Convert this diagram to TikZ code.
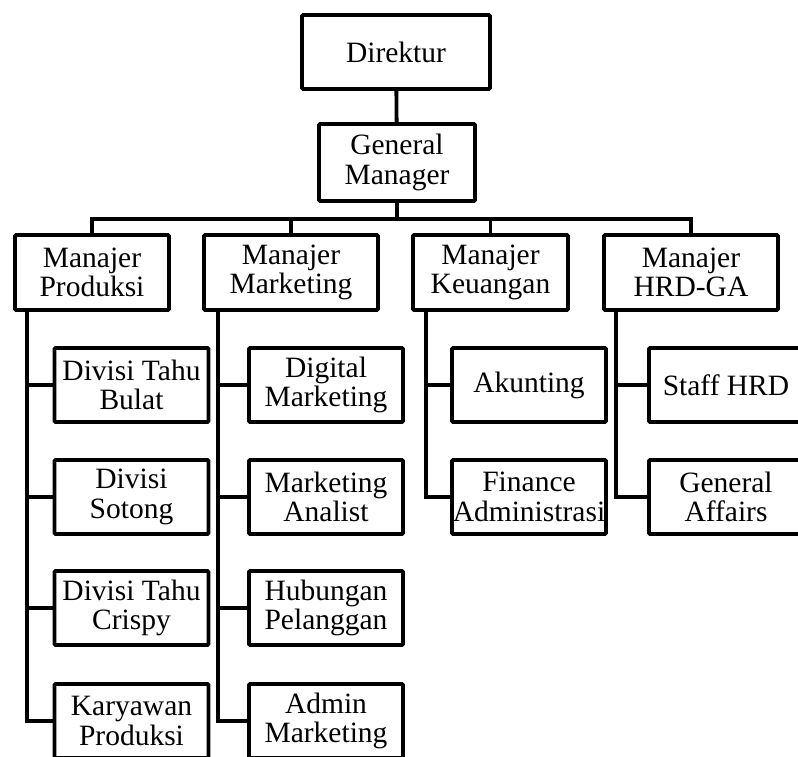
\documentclass[tikz,border=0pt]{standalone}
\usepackage{fontspec}
\setmainfont{Liberation Serif}
\usepackage{tikz}

\begin{document}
\begin{tikzpicture}[x=1pt, y=-1pt,
    box/.style={draw, rectangle, line width=3.8pt, rounded corners=1pt, inner sep=0pt,
        align=center, font=\fontsize{29.5}{29.5}\selectfont},
    mgr/.style={box, minimum height=75pt},
    sub/.style={box, minimum width=154pt, minimum height=74pt},
    link/.style={line width=3.8pt}]
        \clip (0,0) rectangle (798,756);

        % Top
        \node[box, minimum width=188pt, minimum height=74pt] (dir) at (396, 52) {Direktur};
        \node[box, minimum width=156pt, minimum height=77pt] (gm) at (397, 162.5) {General\\Manager};

        % Managers
        \node[mgr, minimum width=154pt] (mprod) at (92, 272.5) {Manajer\\Produksi};
        \node[mgr, minimum width=174pt] (mmkt) at (291, 272.5) {Manajer\\Marketing};
        \node[mgr, minimum width=155pt] (mkeu) at (490.5, 272.5) {Manajer\\Keuangan};
        \node[mgr, minimum width=174pt] (mhrd) at (691, 272.5) {Manajer\\HRD-GA};

        % Produksi
        \node[sub] (prod1) at (131.5, 385) {Divisi Tahu\\Bulat};
        \node[sub] (prod2) at (131.5, 497) {Divisi\\Sotong};
        \node[sub] (prod3) at (131.5, 608) {Divisi Tahu\\Crispy};
        \node[sub] (prod4) at (131.5, 721) {Karyawan\\Produksi};

        % Marketing
        \node[sub] (mkt1) at (326, 385) {Digital\\Marketing};
        \node[sub] (mkt2) at (326, 497) {Marketing\\Analist};
        \node[sub] (mkt3) at (326, 608) {Hubungan\\Pelanggan};
        \node[sub] (mkt4) at (326, 721) {Admin\\Marketing};

        % Keuangan
        \node[sub] (keu1) at (529, 385) {Akunting};
        \node[sub] (keu2) at (529, 497) {Finance\\Administrasi};

        % HRD-GA
        \node[sub] (hrd1) at (726, 385) {Staff HRD};
        \node[sub] (hrd2) at (726, 497) {General\\Affairs};

        % Upper links
        \coordinate (bus) at (0, 219);
        \draw[link] (dir) -- (gm);
        \draw[link] (gm.south) -- (gm.south |- bus);
        \draw[link] (mprod.north) |- (bus -| mhrd.north) -- (mhrd.north);
        \draw[link] (mmkt.north) -- (mmkt.north |- bus);
        \draw[link] (mkeu.north) -- (mkeu.north |- bus);

        % Spines
        \foreach \i in {1,...,4} {
            \draw[link] ([xshift=14pt]mprod.south west) |- (prod\i.west);
            \draw[link] ([xshift=16pt]mmkt.south west) |- (mkt\i.west);
        }
        \foreach \i in {1,2} {
            \draw[link] ([xshift=15pt]mkeu.south west) |- (keu\i.west);
            \draw[link] ([xshift=14pt]mhrd.south west) |- (hrd\i.west);
        }
    \end{tikzpicture}
\end{document}
